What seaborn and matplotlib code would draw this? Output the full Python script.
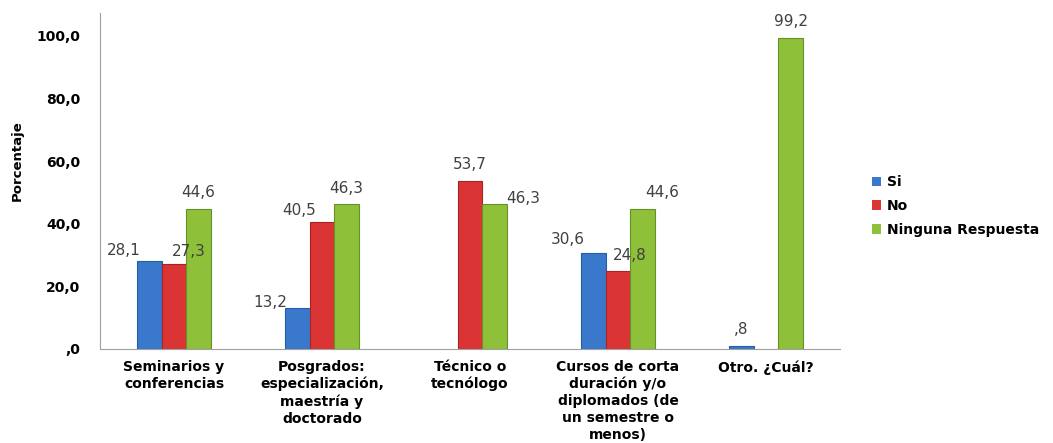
import numpy as np
import pandas as pd
import seaborn as sns
import matplotlib.pyplot as plt
from matplotlib.ticker import FuncFormatter

categories = ["Seminarios y\nconferencias",
              "Posgrados:\nespecialización,\nmaestría y\ndoctorado",
              "Técnico o\ntecnólogo",
              "Cursos de corta\nduración y/o\ndiplomados (de\nun semestre o\nmenos)",
              "Otro. ¿Cuál?"]
series = ["Si", "No", "Ninguna Respuesta"]
si = [28.1, 13.2, np.nan, 30.6, 0.8]
no = [27.3, 40.5, 53.7, 24.8, np.nan]
ninguna = [44.6, 46.3, 46.3, 44.6, 99.2]

colors = {"Si": "#3A78CC", "No": "#DA3434", "Ninguna Respuesta": "#8FC03A"}
edges = {"Si": "#255CA6", "No": "#A82424", "Ninguna Respuesta": "#679027"}

rows = []
for s, vals in zip(series, [si, no, ninguna]):
    for c, v in zip(categories, vals):
        if not np.isnan(v):
            rows.append({"cat": c, "serie": s, "valor": v})
df = pd.DataFrame(rows)


def fmt(v, pos=None):
    t = f"{v:.1f}".replace(".", ",")
    if t.startswith("0"):
        t = t[1:]
    return t


# label nudges in pixels (dx, dy above bar top), per (category index, series)
nudges = {
    (0, "Si"): (-26, 3), (0, "No"): (15, 5), (0, "Ninguna Respuesta"): (0, 9),
    (1, "Si"): (-27, -2), (1, "No"): (-23, 4), (1, "Ninguna Respuesta"): (0, 8),
    (2, "No"): (0, 9), (2, "Ninguna Respuesta"): (29, -2),
    (3, "Si"): (-26, 6), (3, "No"): (12, 8), (3, "Ninguna Respuesta"): (20, 9),
    (4, "Si"): (0, 9), (4, "Ninguna Respuesta"): (0, 9),
}

fig = plt.figure(figsize=(10.53, 4.43), dpi=100)
ax = fig.add_axes([100 / 1053, 1 - 349 / 443, 740 / 1053, 336 / 443])

sns.barplot(data=df, x="cat", y="valor", hue="serie", order=categories,
            hue_order=series, palette=colors, width=0.5, saturation=1,
            ax=ax, errorbar=None, legend=True)

for cont, s in zip(ax.containers, series):
    for p in cont.patches:
        h = p.get_height()
        if np.isnan(h):
            continue
        p.set_edgecolor(edges[s])
        p.set_linewidth(0.8)
        xc = p.get_x() + p.get_width() / 2
        ci = int(round(xc))
        dx, dy = nudges.get((ci, s), (0, 6))
        ax.annotate(fmt(h), (xc, h), xytext=(dx * 0.72, dy * 0.72),
                    textcoords="offset points", ha="center", va="bottom",
                    fontsize=11, color="#404040")

ax.set_ylim(0, 107.3)
ax.set_xlim(-0.5, 4.5)
ax.set_yticks([0, 20, 40, 60, 80, 100])
ax.yaxis.set_major_formatter(FuncFormatter(fmt))
ax.set_xlabel("")
ax.set_ylabel("Porcentaje", family=["Liberation Sans Narrow", "DejaVu Sans"],
              fontsize=9.5, fontweight="bold")
ax.yaxis.set_label_coords(-0.103, 0.56)
for lab in ax.get_yticklabels():
    lab.set_fontweight("bold")
    lab.set_fontsize(10)
for lab in ax.get_xticklabels():
    lab.set_fontweight("bold")
    lab.set_fontsize(10)
    lab.set_linespacing(1.25)
ax.tick_params(axis="both", length=0, pad=8)
ax.tick_params(axis="y", pad=14)
ax.spines["top"].set_visible(False)
ax.spines["right"].set_visible(False)
ax.spines["left"].set_color("#A0A0A0")
ax.spines["bottom"].set_color("#A0A0A0")

ax.legend(loc="center left", bbox_to_anchor=(859 / 1053, 0.535),
          bbox_transform=fig.transFigure, frameon=False,
          prop={"weight": "bold", "size": 10}, handlelength=0.7,
          handleheight=0.7, handletextpad=0.4, labelspacing=0.7)

fig.savefig("out.png", dpi=100)
